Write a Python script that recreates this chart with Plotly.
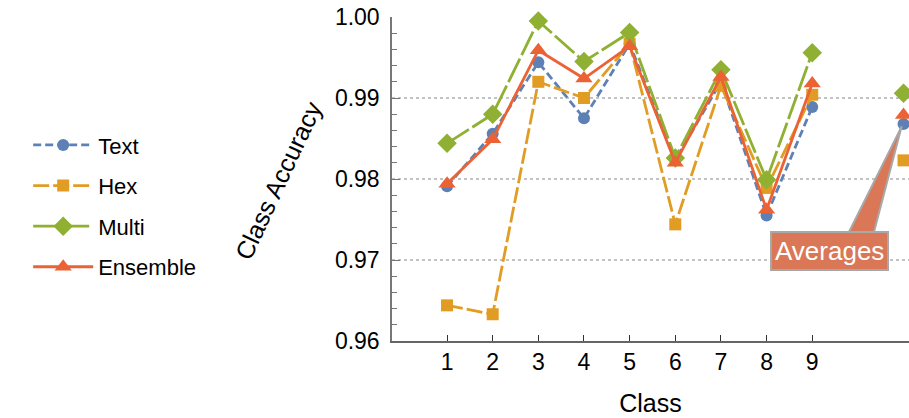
import plotly.graph_objects as go

classes = [1, 2, 3, 4, 5, 6, 7, 8, 9]
avg_x = 11
tick_labels = ["1", "2", "3", "4", "5", "6", "7", "8", "9"]
y_ticks = [0.96, 0.97, 0.98, 0.99, 1.00]

text_vals = [0.9791, 0.9856, 0.9944, 0.9875, 0.9967, 0.9823, 0.9920, 0.9755, 0.9889]
hex_vals = [0.9644, 0.9633, 0.9920, 0.9900, 0.9967, 0.9744, 0.9915, 0.9789, 0.9904]
multi_vals = [0.9844, 0.9880, 0.9995, 0.9945, 0.9981, 0.9826, 0.9935, 0.9799, 0.9956]
ens_vals = [0.9794, 0.9849, 0.9959, 0.9924, 0.9964, 0.9820, 0.9926, 0.9762, 0.9918]

text_avg = 0.9868
hex_avg = 0.9823
multi_avg = 0.9906
ens_avg = 0.9879

grid_values = [0.97, 0.98, 0.99]

series = [
    ("Text", text_vals, text_avg, "#5E81B5", "8px,4px", "circle", 12),
    ("Hex", hex_vals, hex_avg, "#E19C24", "16px,4px", "square", 12),
    ("Multi", multi_vals, multi_avg, "#8FB032", "26px,4px", "diamond", 15),
    ("Ensemble", ens_vals, ens_avg, "#EB6235", "solid", "triangle-up", 15),
]

W, H = 909, 418
L, T, R, B = 392, 17, 0, 77

fig = go.Figure()
for name, vals, avg, color, dash, sym, size in series:
    fig.add_trace(go.Scatter(
        x=classes, y=vals, name=name, mode="lines+markers", legendgroup=name,
        line=dict(color=color, width=2.8, dash=dash),
        marker=dict(symbol=sym, size=size, color=color, line=dict(width=0)),
        cliponaxis=False,
    ))
for name, vals, avg, color, dash, sym, size in series:
    fig.add_trace(go.Scatter(
        x=[avg_x], y=[avg], name=name, mode="markers", legendgroup=name,
        showlegend=False,
        marker=dict(symbol=sym, size=size, color=color, line=dict(width=0)),
        cliponaxis=False,
    ))

for g in grid_values:
    fig.add_shape(type="line", xref="paper", x0=0, x1=1, yref="y", y0=g, y1=g,
                  line=dict(color="#B0B0B0", width=1.5, dash="dot"), layer="below")

# Averages callout wedge
fig.add_shape(type="path", xref="x", yref="y",
              path=f"M 9.80,0.9734 L {avg_x - 0.04},{text_avg - 0.0003} L 10.35,0.9734 Z",
              fillcolor="#DA7756", line=dict(color="#A8A8A8", width=2), layer="above")

fig.add_annotation(x=9.377, y=0.97117, xref="x", yref="y", text="Averages",
                   showarrow=False, bgcolor="#DA7756", bordercolor="#A8A8A8",
                   borderwidth=2, borderpad=3, xanchor="center", yanchor="middle",
                   font=dict(color="white", size=26, family="Liberation Sans"))

plot_w = W - L - R
plot_h = H - T - B
fig.add_annotation(x=(278 - L) / plot_w, y=(H - B - 181) / plot_h,
                   xref="paper", yref="paper", text="Class Accuracy",
                   showarrow=False, textangle=-65, xanchor="center", yanchor="middle",
                   font=dict(size=25, color="black", family="Liberation Sans"))

fig.update_layout(
    width=W, height=H,
    margin=dict(l=L, r=R, t=T, b=B),
    plot_bgcolor="white", paper_bgcolor="white",
    font=dict(family="Liberation Sans", size=23, color="black"),
    showlegend=True,
    legend=dict(xref="container", yref="container", x=0.031, y=0.703,
                xanchor="left", yanchor="top", font=dict(size=22),
                tracegroupgap=9, itemwidth=60, bgcolor="rgba(0,0,0,0)"),
    xaxis=dict(range=[-0.206, 11.12], tickmode="array", tickvals=classes,
               ticktext=tick_labels, ticks="inside", ticklen=6, tickcolor="#333",
               showline=True, linecolor="#666", linewidth=1.5, showgrid=False,
               zeroline=False, automargin=False,
               title=dict(text="Class", standoff=20, font=dict(size=25))),
    yaxis=dict(range=[0.96, 1.0], tickmode="array", tickvals=y_ticks,
               tickformat=".2f", ticks="inside",
               ticklen=8, tickcolor="#777", showline=True, linecolor="#777",
               linewidth=1.5, showgrid=False, zeroline=False, automargin=False,
               ticklabeloverflow="allow",
               minor=dict(tick0=0.96, dtick=0.002, ticks="inside", ticklen=5,
                          tickcolor="#777"),
               ticklabelstandoff=6),
)

fig.write_html("out.html", config={"displayModeBar": False},
               post_script="document.body.style.margin='0';")
